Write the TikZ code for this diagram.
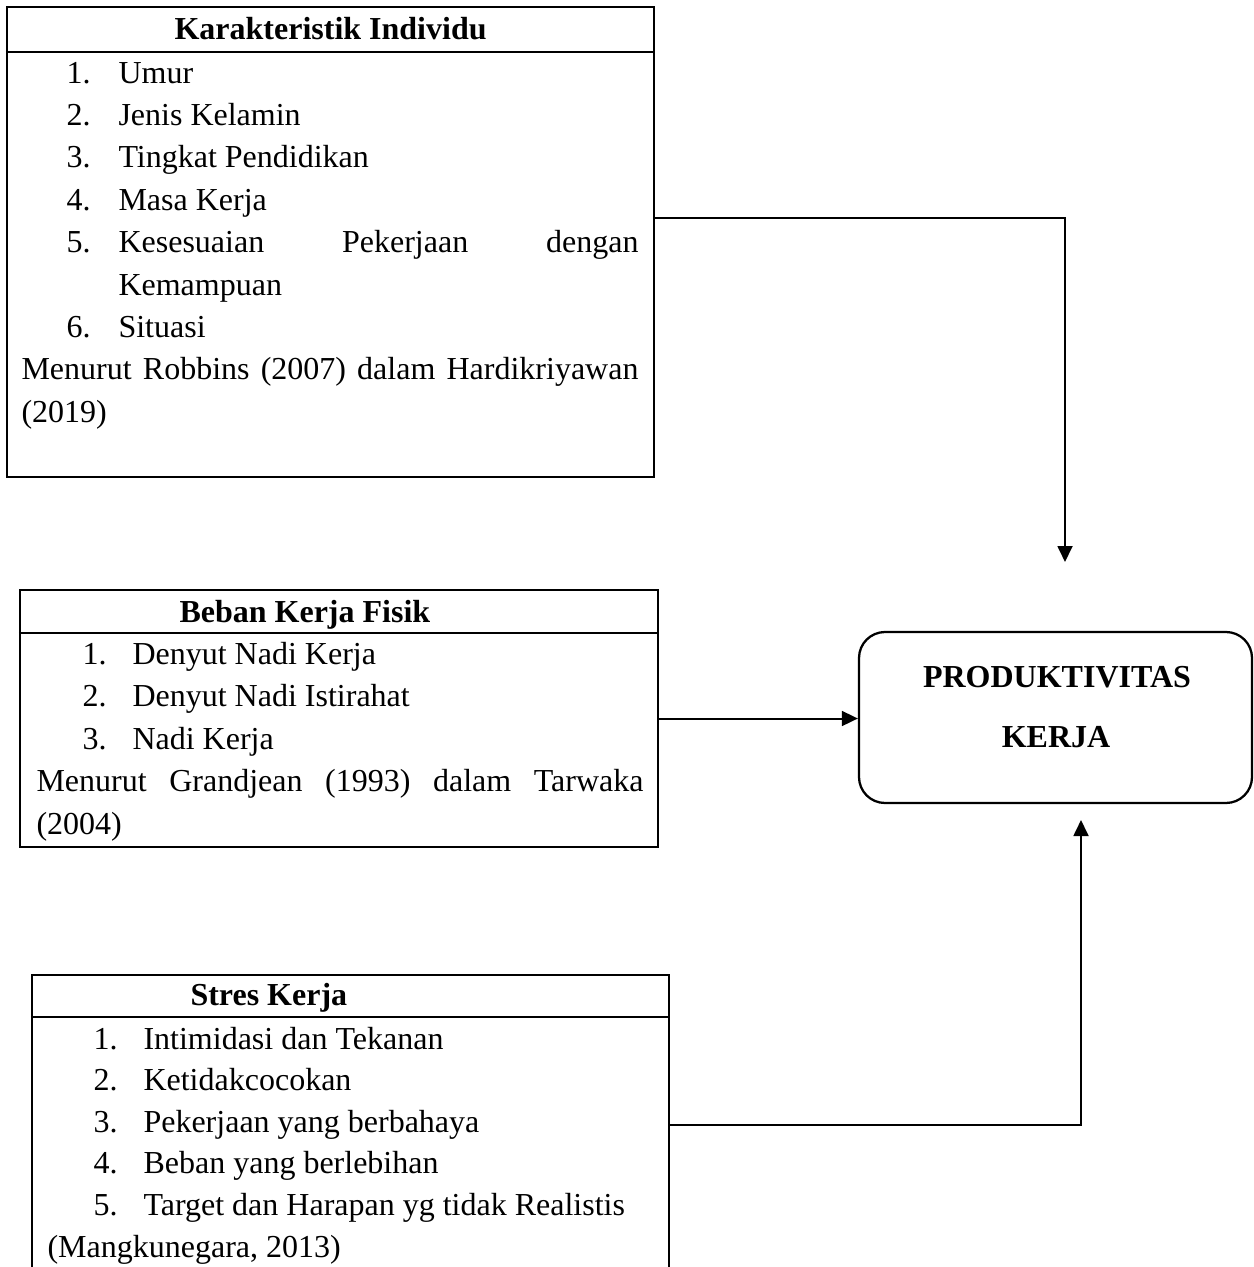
\documentclass[tikz,border=0pt]{standalone}
\usepackage{fontspec}
\setmainfont{Liberation Serif}
\usetikzlibrary{arrows.meta,fit}
\newlength{\pxu}
\setlength{\pxu}{0.375pt}

\begin{document}
\begin{tikzpicture}[x=0.375pt,y=-0.375pt,
  every node/.style={font=\fontsize{12}{14}\selectfont},
  kotak/.style={draw,line width=0.85pt,inner sep=0pt},
  judul/.style={anchor=base west,inner sep=0pt,font=\fontsize{12}{14}\selectfont\bfseries},
  isi/.style={anchor=base west,inner sep=0pt},
  panah/.style={line width=0.75pt,-{Triangle[length=6pt,width=5.6pt]}}]
\useasboundingbox (0,0) rectangle (1253,1267);
\clip (0,0) rectangle (1253,1267);

% Karakteristik Individu
\node[kotak,fit={(7,7) (654,477)}] (kar) {};
\draw[line width=0.85pt] (kar.west |- 0,52) -- (kar.east |- 0,52);
\node[judul] (kar-head) at (174,39) {Karakteristik Individu};
\foreach \k/\txt in {1/Umur,2/Jenis Kelamin,3/Tingkat Pendidikan,4/Masa Kerja} {
    \node[isi] (kar-n\k) at (66,{83+42.4*(\k-1)}) {\k.};
    \node[isi] (kar-t\k) at (118,{83+42.4*(\k-1)}) {\txt};
}
\node[isi] (kar-n5) at (66,252.6) {5.};
\node[isi] (kar-t5) at (118,252.6) {\makebox[520\pxu][s]{Kesesuaian Pekerjaan dengan}};
\node[isi] (kar-t5b) at (118,295) {Kemampuan};
\node[isi] (kar-n6) at (66,337.4) {6.};
\node[isi] (kar-t6) at (118,337.4) {Situasi};
\node[isi] (kar-src) at (21,379.8) {\makebox[617\pxu][s]{Menurut Robbins (2007) dalam Hardikriyawan}};
\node[isi] (kar-year) at (21,422.2) {(2019)};

% Beban Kerja Fisik
\node[kotak,fit={(20,590) (658,847)}] (beban) {};
\draw[line width=0.85pt] (beban.west |- 0,633) -- (beban.east |- 0,633);
\node[judul] (beban-head) at (179,622) {Beban Kerja Fisik};
\foreach \k/\txt in {1/Denyut Nadi Kerja,2/Denyut Nadi Istirahat,3/Nadi Kerja} {
    \node[isi] (beban-n\k) at (82,{664+42.5*(\k-1)}) {\k.};
    \node[isi] (beban-t\k) at (132,{664+42.5*(\k-1)}) {\txt};
}
\node[isi] (beban-src) at (36,791.5) {\makebox[607\pxu][s]{Menurut Grandjean (1993) dalam Tarwaka}};
\node[isi] (beban-year) at (36,834) {(2004)};

% Stres Kerja
\node[kotak,fit={(32,975) (669,1300)}] (stres) {};
\draw[line width=0.85pt] (stres.west |- 0,1017) -- (stres.east |- 0,1017);
\node[judul] (stres-head) at (190,1005) {Stres Kerja};
\foreach \k/\txt in {1/Intimidasi dan Tekanan,2/Ketidakcocokan,3/Pekerjaan yang berbahaya,4/Beban yang berlebihan,5/Target dan Harapan yg tidak Realistis} {
    \node[isi] (stres-n\k) at (93,{1049+41.6*(\k-1)}) {\k.};
    \node[isi] (stres-t\k) at (143,{1049+41.6*(\k-1)}) {\txt};
}
\node[isi] (stres-src) at (47,1257) {(Mangkunegara, 2013)};

% Produktivitas Kerja
\node[kotak,rounded corners=9.75pt,fit={(859,632) (1252,803)}] (prod) {};
\node[judul,anchor=base] (prod-1) at (1057,687) {PRODUKTIVITAS};
\node[judul,anchor=base] (prod-2) at (1056,747) {KERJA};

% panah
\coordinate (ujungA) at (1065,562);
\coordinate (ujungC) at (1081,820);
\draw[panah] (kar.east |- 0,218) -| (ujungA);
\draw[panah] (beban.east) -- (beban.east -| prod.west);
\draw[panah] (stres.east |- 0,1125) -| (ujungC);
\end{tikzpicture}
\end{document}
